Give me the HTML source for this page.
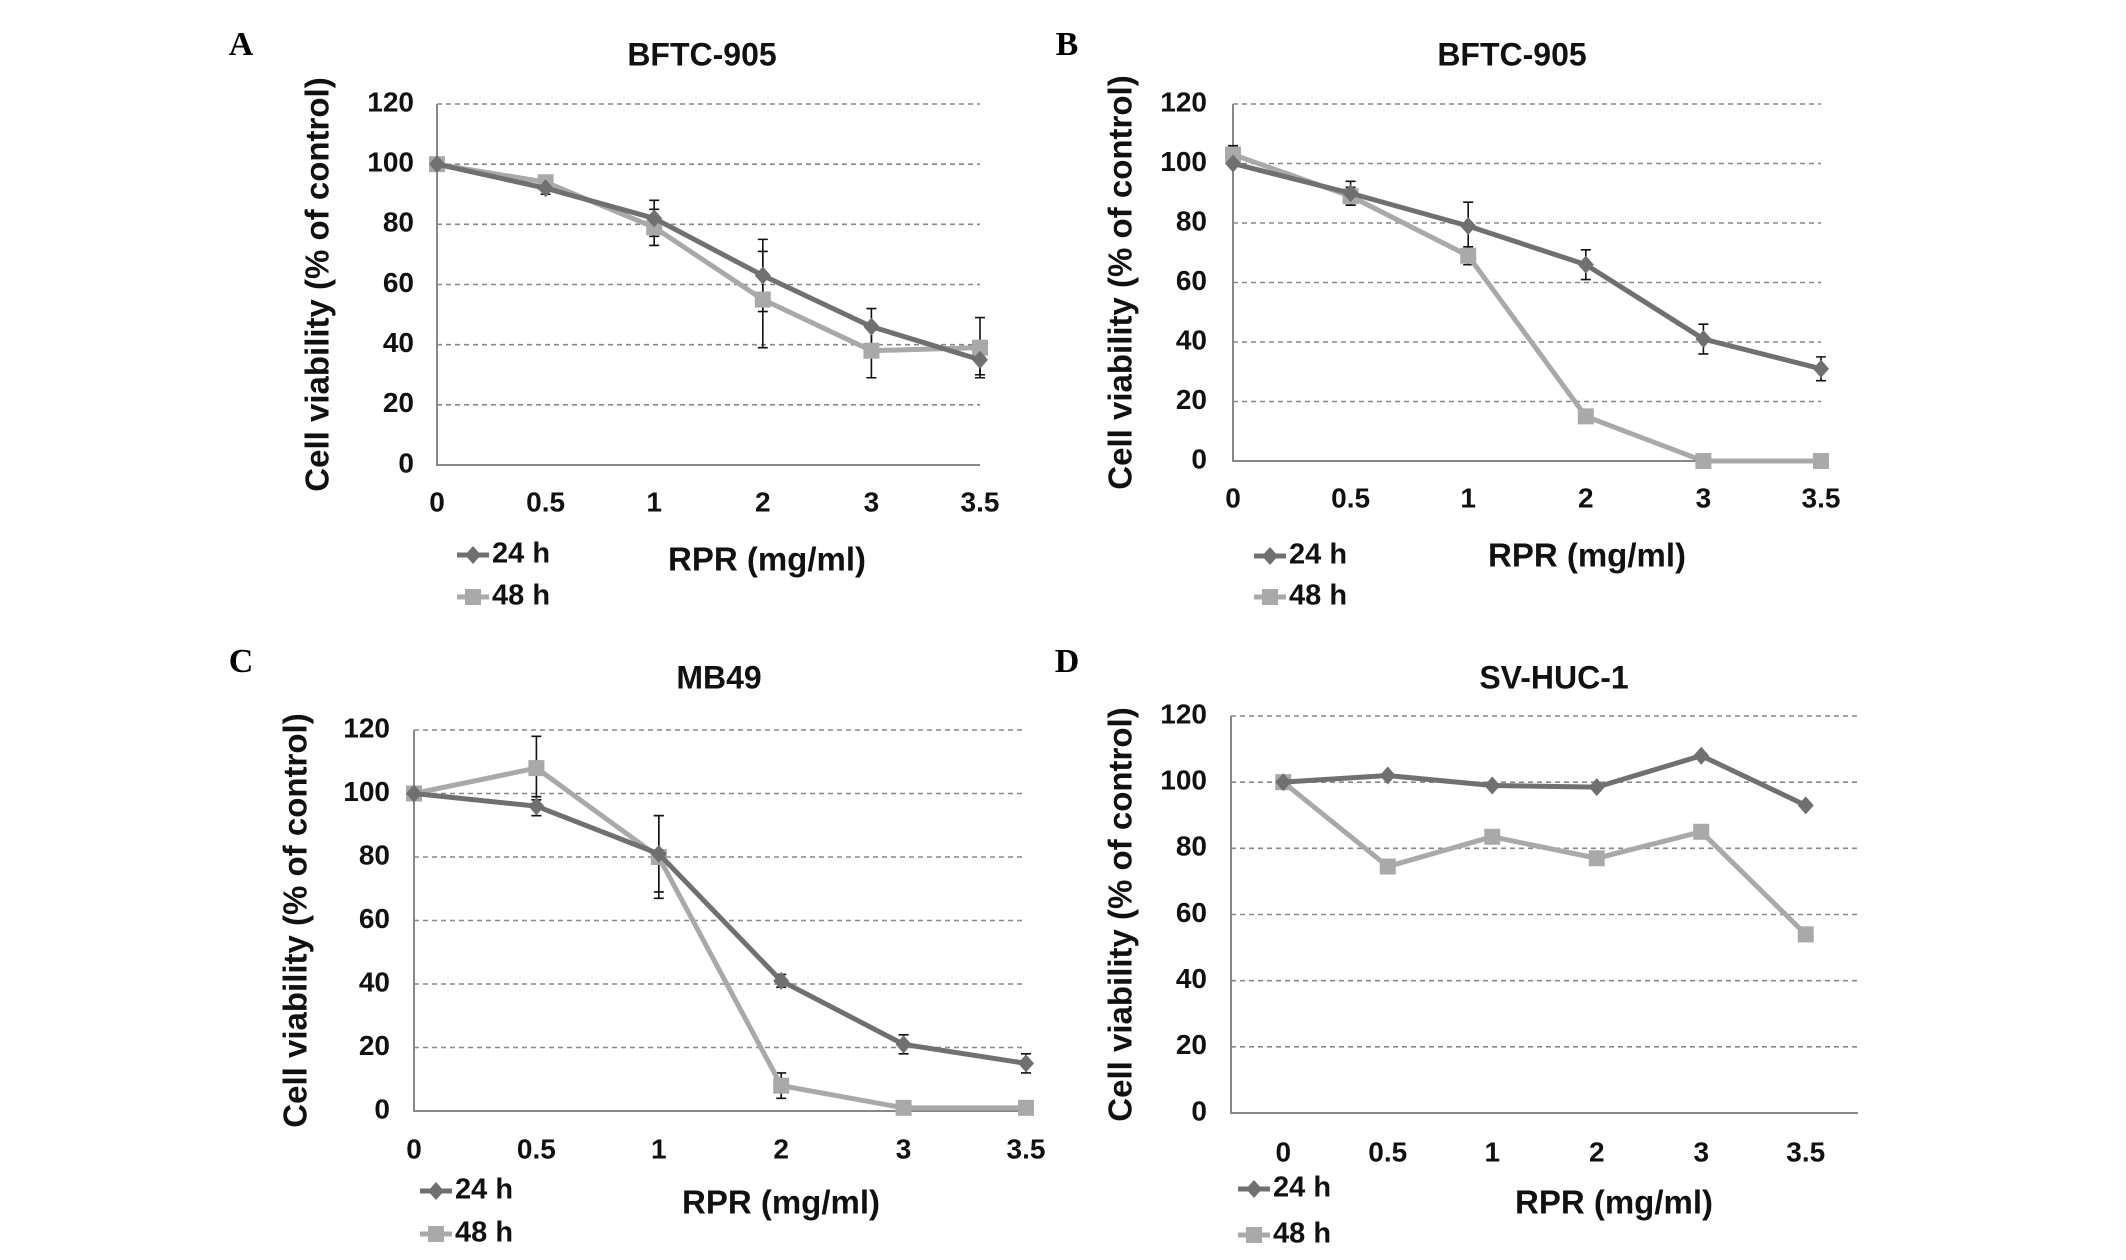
<!DOCTYPE html>
<html><head><meta charset="utf-8"><style>
html,body{margin:0;padding:0;background:#fff;}
svg{display:block;font-family:"Liberation Sans",Arial,sans-serif;}
</style></head><body>
<svg id="fig" width="2126" height="1260" viewBox="0 0 2126 1260"></svg>
<script>
const categories = ["0","0.5","1","2","3","3.5"];
const yTicks = [0,20,40,60,80,100,120];
const titles = ["BFTC-905","BFTC-905","MB49","SV-HUC-1"];
const panelLetters = ["A","B","C","D"];
const a24 = [100,92,82,63,46,35];
const a24err = [0,2,6,12,6,5];
const a48 = [100,94,79,55,38,39];
const a48err = [0,2,6,16,9,10];
const b24 = [100,90,79,66,41,31];
const b24err = [0,4,8,5,5,4];
const b48 = [103,89,69,15,0,0];
const b48err = [3,3,3,0,0,0];
const c24 = [100,96,81,41,21,15];
const c24err = [0,3,12,2,3,3];
const c48 = [100,108,80,8,1,1];
const c48err = [0,10,13,4,1,1];
const d24 = [100,102,99,98.5,108,93];
const d48 = [100,74.5,83.5,77,85,54];

const NS="http://www.w3.org/2000/svg";
const svg=document.getElementById('fig');
function el(tag,attrs,parent,text){const e=document.createElementNS(NS,tag);for(const k in attrs)e.setAttribute(k,attrs[k]);if(text!==undefined)e.textContent=text;(parent||svg).appendChild(e);return e;}

const C24="#707070",C48="#a9a9a9";
const panels=[
 {x0:437,x1:980,y0:465,y1:104,between:false,title:[702,57],letter:[241,47],ytitle:320,tickR:414,xtickY:504,xtitle:[767,562],leg:[457,555,597],s24:a24,e24:a24err,s48:a48,e48:a48err},
 {x0:1233,x1:1821,y0:461,y1:104,between:false,title:[1512,57],letter:[1067,47],ytitle:1123,tickR:1207,xtickY:500,xtitle:[1587,558],leg:[1254,556,597],s24:b24,e24:b24err,s48:b48,e48:b48err},
 {x0:414,x1:1026,y0:1111,y1:730,between:false,title:[719,680],letter:[241,664],ytitle:298,tickR:390,xtickY:1151,xtitle:[781,1205],leg:[420,1191,1234],s24:c24,e24:c24err,s48:c48,e48:c48err},
 {x0:1231,x1:1858,y0:1113,y1:716,between:true,title:[1554,680],letter:[1067,664],ytitle:1123,tickR:1207,xtickY:1154,xtitle:[1614,1205],leg:[1238,1189,1235],s24:d24,e24:null,s48:d48,e48:null}
];

panels.forEach((p,pi)=>{
  const g=el('g',{});
  
  
  const n=categories.length;
  const step=p.between?(p.x1-p.x0)/n:(p.x1-p.x0)/(n-1);
  const xs=i=>p.between?p.x0+step*(i+0.5):p.x0+step*i;
  const ys=v=>p.y0+(v/120)*(p.y1-p.y0);
  const L=el('text',{x:p.letter[0],y:p.letter[1],'font-family':'"Liberation Serif",serif','font-weight':'bold','font-size':34,fill:'#000','text-anchor':'middle','dominant-baseline':'middle'},g,panelLetters[pi]);
  
  
  const T=el('text',{x:p.title[0],y:p.title[1],'font-weight':'bold','font-size':32,fill:'#111','text-anchor':'middle','dominant-baseline':'middle'},g,titles[pi]);
  
  
  yTicks.forEach(t=>{
    const y=ys(t);
    if(t>0){const gl=el('line',{x1:p.x0,x2:p.x1,y1:y,y2:y,stroke:'#888','stroke-width':1.6,'stroke-dasharray':'5,4'},g);
      
      }
    const tl=el('text',{x:p.tickR,y:y,'font-weight':'bold','font-size':28,fill:'#111','text-anchor':'end','dominant-baseline':'middle'},g,String(t));
    
    
  });
  const ax=el('polyline',{points:`${p.x0},${p.y1} ${p.x0},${p.y0} ${p.x1},${p.y0}`,fill:'none',stroke:'#888','stroke-width':2},g);
  
  
  categories.forEach((c,i)=>{
    const tl=el('text',{x:xs(i),y:p.xtickY,'font-weight':'bold','font-size':28,fill:'#111','text-anchor':'middle','dominant-baseline':'middle'},g,c);
    
    
  });
  const cy=(p.y0+p.y1)/2;
  const yt=el('text',{x:p.ytitle,y:cy,transform:`rotate(-90 ${p.ytitle} ${cy})`,'font-weight':'bold','font-size':33,fill:'#111','text-anchor':'middle','dominant-baseline':'middle'},g,'Cell viability (% of control)');
  
  
  const xt=el('text',{x:p.xtitle[0],y:p.xtitle[1],'font-weight':'bold','font-size':33,fill:'#111','text-anchor':'middle','dominant-baseline':'middle'},g,'RPR (mg/ml)');
  
  
  const series=[[p.s48,p.e48,C48,'square','48h'],[p.s24,p.e24,C24,'diamond','24h']];
  series.forEach(([vals,errs,col,shape,nm])=>{
    if(!errs)return;
    vals.forEach((v,i)=>{
      if(!errs[i])return;
      const x=xs(i),ya=ys(v+errs[i]),yb=ys(Math.max(0,v-errs[i]));
      const eb=el('path',{d:`M${x},${ya}V${yb}M${x-5},${ya}H${x+5}M${x-5},${yb}H${x+5}`,stroke:'#111','stroke-width':1.6,fill:'none'},g);
      
      
    });
  });
  series.forEach(([vals,errs,col,shape,nm])=>{
    const pts=vals.map((v,i)=>xs(i)+','+ys(v)).join(' ');
    const ln=el('polyline',{points:pts,fill:'none',stroke:col,'stroke-width':5},g);
    
    
    vals.forEach((v,i)=>{
      const x=xs(i),y=ys(v);
      let m;
      if(shape==='square') m=el('rect',{x:x-8,y:y-8,width:16,height:16,fill:col},g);
      else m=el('path',{d:`M${x},${y-9}L${x+8},${y}L${x},${y+9}L${x-8},${y}Z`,fill:col},g);
      
      
    });
  });
  [[C24,'diamond','24 h',p.leg[1]],[C48,'square','48 h',p.leg[2]]].forEach(([col,shape,lab,y])=>{
    const lg=el('g',{},g);
    
    
    const x=p.leg[0];
    el('line',{x1:x,x2:x+32,y1:y,y2:y,stroke:col,'stroke-width':5},lg);
    if(shape==='square') el('rect',{x:x+8,y:y-8,width:16,height:16,fill:col},lg);
    else el('path',{d:`M${x+16},${y-9}L${x+24},${y}L${x+16},${y+9}L${x+8},${y}Z`,fill:col},lg);
    el('text',{x:x+35,y:y,'font-weight':'bold','font-size':29,fill:'#111','dominant-baseline':'middle'},lg,lab);
  });
});
</script>
</body></html>
